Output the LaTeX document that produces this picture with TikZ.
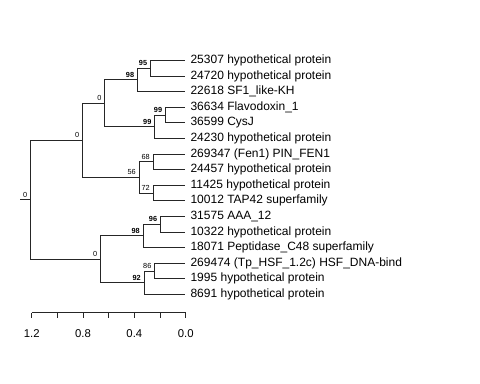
\documentclass[tikz,border=0pt]{standalone}
\usepackage{fontspec}
\setmainfont{Liberation Sans}
\usepackage{tikz}
\usetikzlibrary{calc}

\begin{document}
\begin{tikzpicture}[x=0.75pt,y=-0.75pt,
  branch/.style={line width=0.75pt,black!85},
  tip/.style={anchor=west,inner xsep=3.6pt,inner ysep=0pt,font=\fontsize{9}{10}\selectfont},
  boot/.style={anchor=south east,inner sep=0pt,xshift=-2.5pt,yshift=1.8pt,font=\fontsize{5.5}{6}\selectfont},
  bootb/.style={boot,font=\fontsize{5.5}{6}\selectfont\bfseries},
  ticklab/.style={font=\fontsize{8.5}{10}\selectfont}]
\useasboundingbox (0,0) rectangle (480,384);
% leaves
\node[tip] (l0)  at (185.5,60.5)  {25307 hypothetical protein};
\node[tip] (l1)  at (185.5,76.1)  {24720 hypothetical protein};
\node[tip] (l2)  at (185.5,91.7)  {22618 SF1\_like-KH};
\node[tip] (l3)  at (185.5,107.3) {36634 Flavodoxin\_1};
\node[tip] (l4)  at (185.5,122.9) {36599 CysJ};
\node[tip] (l5)  at (185.5,138.5) {24230 hypothetical protein};
\node[tip] (l6)  at (185.5,154.1) {269347 (Fen1) PIN\_FEN1};
\node[tip] (l7)  at (185.5,169.7) {24457 hypothetical protein};
\node[tip] (l8)  at (185.5,185.3) {11425 hypothetical protein};
\node[tip] (l9)  at (185.5,200.9) {10012 TAP42 superfamily};
\node[tip] (l10) at (185.5,216.5) {31575 AAA\_12};
\node[tip] (l11) at (185.5,232.1) {10322 hypothetical protein};
\node[tip] (l12) at (185.5,247.7) {18071 Peptidase\_C48 superfamily};
\node[tip] (l13) at (185.5,263.3) {269474 (Tp\_HSF\_1.2c) HSF\_DNA-bind};
\node[tip] (l14) at (185.5,278.9) {1995 hypothetical protein};
\node[tip] (l15) at (185.5,294.5) {8691 hypothetical protein};
% inner nodes
\coordinate (d) at (150.7,68.3);
\coordinate (c) at (137.7,80);
\coordinate (f) at (165.7,115.1);
\coordinate (e) at (155,126.8);
\coordinate (b) at (105,103.4);
\coordinate (h) at (153.3,161.9);
\coordinate (i) at (153.3,193.1);
\coordinate (g) at (139.3,177.5);
\coordinate (a) at (82.7,140.45);
\coordinate (l) at (160.7,224.3);
\coordinate (k) at (143.3,236);
\coordinate (n) at (155,271.1);
\coordinate (m) at (144.3,282.8);
\coordinate (j) at (100.7,259.4);
\coordinate (r) at (30.7,199.9);
\coordinate (r0) at (20.5,199.9);
% branches
\draw[branch] (d) |- (l0.west);
\draw[branch] (d) |- (l1.west);
\draw[branch] (c) |- (d);
\draw[branch] (c) |- (l2.west);
\draw[branch] (f) |- (l3.west);
\draw[branch] (f) |- (l4.west);
\draw[branch] (e) |- (f);
\draw[branch] (e) |- (l5.west);
\draw[branch] (b) |- (c);
\draw[branch] (b) |- (e);
\draw[branch] (h) |- (l6.west);
\draw[branch] (h) |- (l7.west);
\draw[branch] (i) |- (l8.west);
\draw[branch] (i) |- (l9.west);
\draw[branch] (g) |- (h);
\draw[branch] (g) |- (i);
\draw[branch] (a) |- (b);
\draw[branch] (a) |- (g);
\draw[branch] (l) |- (l10.west);
\draw[branch] (l) |- (l11.west);
\draw[branch] (k) |- (l);
\draw[branch] (k) |- (l12.west);
\draw[branch] (n) |- (l13.west);
\draw[branch] (n) |- (l14.west);
\draw[branch] (m) |- (n);
\draw[branch] (m) |- (l15.west);
\draw[branch] (j) |- (k);
\draw[branch] (j) |- (m);
\draw[branch] (r) |- (a);
\draw[branch] (r) |- (j);
\draw[branch] (r0) -- (r);
% support values
\node[bootb] (sd) at (d) {95};
\node[bootb] (sc) at (c) {98};
\node[bootb] (sf) at (f) {99};
\node[bootb] (se) at (e) {99};
\node[boot]  (sb) at (b) {0};
\node[boot]  (sh) at (h) {68};
\node[boot]  (si) at (i) {72};
\node[boot]  (sg) at (g) {56};
\node[boot]  (sa) at (a) {0};
\node[bootb] (sl) at (l) {96};
\node[bootb] (sk) at (k) {98};
\node[boot]  (sn) at (n) {86};
\node[bootb] (sm) at (m) {92};
\node[boot]  (sj) at (j) {0};
\node[boot]  (sr) at (r) {0};
% scale axis
\coordinate (ax0) at (31.7,313);
\coordinate (ax1) at (185.7,313);
\draw[branch] (ax0) -- (ax1);
\foreach \v in {0,...,6}
  \draw[branch] ($(ax1)+({-25.67*\v},0)$) -- ++(0,5);
\foreach \v/\lab in {0/0.0,2/0.4,4/0.8,6/1.2}
  \node[ticklab] (tl\v) at ($(ax1)+({-25.67*\v},20.3)$) {\lab};
\end{tikzpicture}
\end{document}
